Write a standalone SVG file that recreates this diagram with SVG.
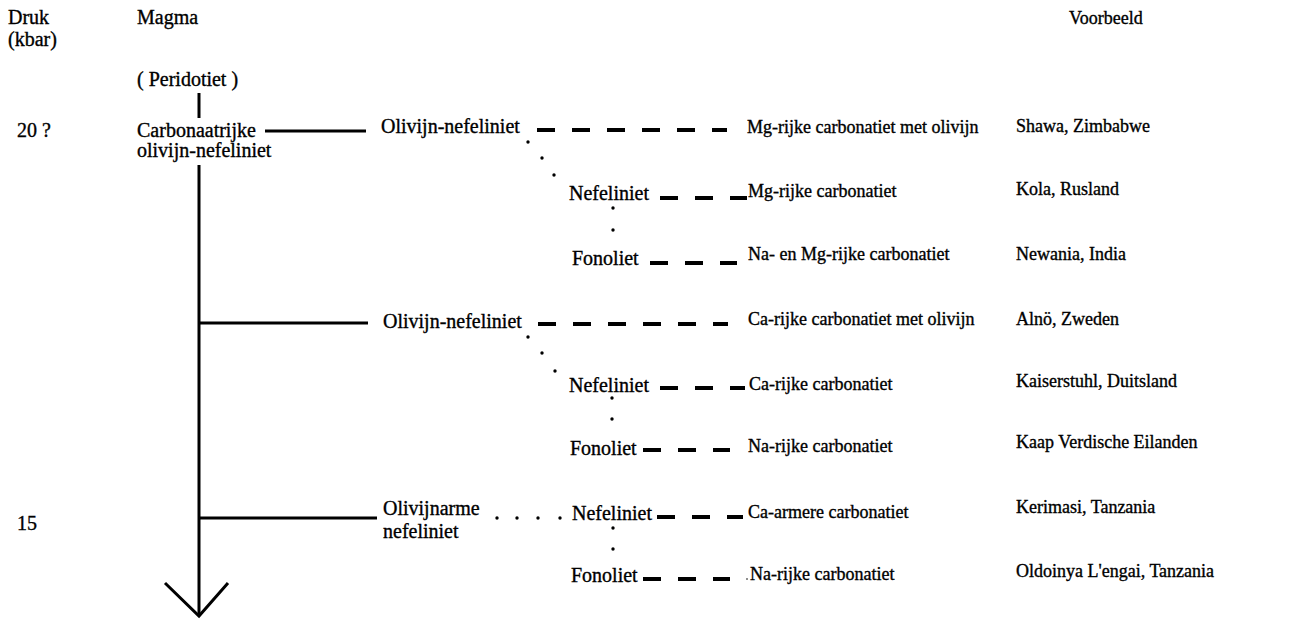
<svg xmlns="http://www.w3.org/2000/svg" width="1302" height="619" viewBox="0 0 1302 619">
<style>
text{font-family:"Liberation Serif","Times New Roman",serif;fill:#000;stroke:#000;stroke-width:0.35}
.l{font-size:20px}
.r{font-size:18px}
.solid{stroke:#000;stroke-width:3;fill:none}
.dash{stroke:#000;stroke-width:4;stroke-dasharray:18 17;fill:none}
.dot{fill:#000}
</style>
<rect width="1302" height="619" fill="#fff"/>
<g id="headers">
<text class="l" x="8" y="24">Druk</text>
<text class="l" x="8" y="46">(kbar)</text>
<text class="l" x="137" y="24">Magma</text>
<text class="r" x="1069" y="24">Voorbeeld</text>
<text class="l" x="17" y="137">20 ?</text>
<text class="l" x="17" y="530">15</text>
</g>
<g id="connectors">
<line class="solid" x1="199" y1="93" x2="199" y2="118"/>
<line class="solid" x1="199" y1="165" x2="199" y2="615"/>
<polyline class="solid" points="165,583 199,616 228,583"/>
<line class="solid" x1="265" y1="131" x2="366" y2="131"/>
<line class="solid" x1="199" y1="323" x2="368" y2="323"/>
<line class="solid" x1="199" y1="518" x2="377" y2="518"/>
<line class="dash" x1="537" y1="130" x2="727" y2="130"/>
<line class="dash" x1="660" y1="198" x2="747" y2="198"/>
<line class="dash" x1="650" y1="263" x2="737" y2="263"/>
<line class="dash" x1="538" y1="324" x2="728" y2="324"/>
<line class="dash" x1="660" y1="388" x2="745" y2="388"/>
<line class="dash" x1="643" y1="450" x2="730" y2="450"/>
<line class="dash" x1="657" y1="517" x2="743" y2="517"/>
<line class="dash" x1="643" y1="579" x2="730" y2="579"/>
<circle class="dot" cx="528" cy="142" r="1.7"/>
<circle class="dot" cx="542" cy="158" r="1.7"/>
<circle class="dot" cx="554" cy="175" r="1.7"/>
<circle class="dot" cx="613" cy="208" r="1.7"/>
<circle class="dot" cx="613" cy="230" r="1.7"/>
<circle class="dot" cx="528" cy="337" r="1.7"/>
<circle class="dot" cx="542" cy="353" r="1.7"/>
<circle class="dot" cx="555" cy="371" r="1.7"/>
<circle class="dot" cx="612" cy="398" r="1.7"/>
<circle class="dot" cx="612" cy="419" r="1.7"/>
<circle class="dot" cx="497" cy="518" r="1.7"/>
<circle class="dot" cx="517" cy="518" r="1.7"/>
<circle class="dot" cx="538" cy="518" r="1.7"/>
<circle class="dot" cx="560" cy="518" r="1.7"/>
<circle class="dot" cx="613" cy="528" r="1.7"/>
<circle class="dot" cx="613" cy="549" r="1.7"/>
<circle class="dot" cx="747" cy="579" r="0.8"/>
</g>
<g id="peridotiet"><text class="l" x="137" y="86">( Peridotiet )</text></g>
<g id="carbonaatrijke"><text class="l" x="137" y="137">Carbonaatrijke</text><text class="l" x="137" y="157">olivijn-nefeliniet</text></g>
<g id="olivijn1"><text class="l" x="381" y="133">Olivijn-nefeliniet</text></g>
<g id="nefeliniet1"><text class="l" x="569" y="200">Nefeliniet</text></g>
<g id="fonoliet1"><text class="l" x="572" y="265">Fonoliet</text></g>
<g id="olivijn2"><text class="l" x="383" y="328">Olivijn-nefeliniet</text></g>
<g id="nefeliniet2"><text class="l" x="569" y="392">Nefeliniet</text></g>
<g id="fonoliet2"><text class="l" x="570" y="455">Fonoliet</text></g>
<g id="olivijnarme"><text class="l" x="383" y="515">Olivijnarme</text><text class="l" x="383" y="538">nefeliniet</text></g>
<g id="nefeliniet3"><text class="l" x="572" y="520">Nefeliniet</text></g>
<g id="fonoliet3"><text class="l" x="571" y="582">Fonoliet</text></g>
<g id="carb1"><text class="r" x="747" y="133">Mg-rijke carbonatiet met olivijn</text></g>
<g id="carb2"><text class="r" x="748" y="197">Mg-rijke carbonatiet</text></g>
<g id="carb3"><text class="r" x="748" y="260">Na- en Mg-rijke carbonatiet</text></g>
<g id="carb4"><text class="r" x="748" y="325">Ca-rijke carbonatiet met olivijn</text></g>
<g id="carb5"><text class="r" x="749" y="390">Ca-rijke carbonatiet</text></g>
<g id="carb6"><text class="r" x="748" y="452">Na-rijke carbonatiet</text></g>
<g id="carb7"><text class="r" x="748" y="518">Ca-armere carbonatiet</text></g>
<g id="carb8"><text class="r" x="750" y="580">Na-rijke carbonatiet</text></g>
<g id="ex1"><text class="r" x="1016" y="132">Shawa, Zimbabwe</text></g>
<g id="ex2"><text class="r" x="1016" y="195">Kola, Rusland</text></g>
<g id="ex3"><text class="r" x="1016" y="260">Newania, India</text></g>
<g id="ex4"><text class="r" x="1016" y="325">Alnö, Zweden</text></g>
<g id="ex5"><text class="r" x="1016" y="387">Kaiserstuhl, Duitsland</text></g>
<g id="ex6"><text class="r" x="1016" y="448">Kaap Verdische Eilanden</text></g>
<g id="ex7"><text class="r" x="1016" y="513">Kerimasi, Tanzania</text></g>
<g id="ex8"><text class="r" x="1016" y="577">Oldoinya L'engai, Tanzania</text></g>
</svg>
